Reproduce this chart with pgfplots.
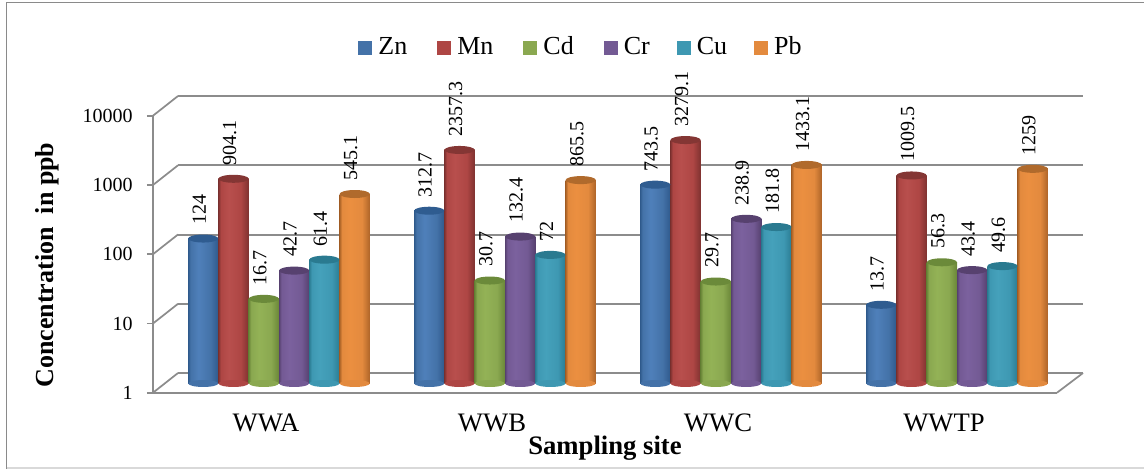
\documentclass[border=0pt]{standalone}
\usepackage{fontspec}
\setmainfont{Liberation Serif}
\usepackage{pgfplots}
\usepackage{pgfplotstable}
\pgfplotsset{compat=1.18}
\definecolor{gridgray}{HTML}{8C8C8C}
\definecolor{frameg}{HTML}{8A8A8A}
\pgfplotstableread{
site Base Zn Mn Cd Cr Cu Pb
WWA 1 124 904.1 16.7 42.7 61.4 545.1
WWB 1 312.7 2357.3 30.7 132.4 72 865.5
WWC 1 743.5 3279.1 29.7 238.9 181.8 1433.1
WWTP 1 13.7 1009.5 56.3 43.4 49.6 1259
}\datatable
\newcommand\defcyl[5]{%
 \definecolor{main#1}{HTML}{#2}\definecolor{light#1}{HTML}{#3}\definecolor{dark#1}{HTML}{#4}\definecolor{top#1}{HTML}{#5}%
 \pgfdeclarehorizontalshading{shade#1}{100bp}{color(0bp)=(dark#1); color(25bp)=(dark#1); color(29bp)=(main#1); color(42bp)=(light#1); color(62bp)=(main#1); color(75bp)=(dark#1); color(100bp)=(dark#1)}%
 \pgfdeclareplotmark{top#1}{\pgfsetfillcolor{top#1}\pgfpathellipse{\pgfpointorigin}{\pgfpoint{11.35pt}{0pt}}{\pgfpoint{0pt}{3pt}}\pgfusepathqfill}%
 \pgfdeclareplotmark{bot#1}{\pgfsetfillcolor{main#1}\pgfpathellipse{\pgfpointorigin}{\pgfpoint{11.2pt}{0pt}}{\pgfpoint{0pt}{2.6pt}}\pgfusepathqfill}%
}
\defcyl{Zn}{4472A8}{4F80BA}{2F5A8C}{2F5C90}
\defcyl{Mn}{AE4644}{B84F4D}{7F3230}{843634}
\defcyl{Cd}{8AA850}{93B256}{6A8638}{6B8A3A}
\defcyl{Cr}{735A94}{7B619E}{56406F}{57416F}
\defcyl{Cu}{3E98B2}{45A1BB}{2A7C92}{2A7A90}
\defcyl{Pb}{E38A3E}{EB8F40}{AD6428}{B06A2C}
\newcommand\onebar[4]{%
 \addplot[ybar,bar width=22.7pt,bar shift=0pt,draw=none,shade,shading=shade#1,forget plot,#3]
   table[x expr=\coordindex+#2,y=#1]{\datatable};
}
\newcommand\cyl[2]{%
 \addplot[only marks,mark=bot#1,forget plot] table[x expr=\coordindex+#2,y=Base]{\datatable};
 \onebar{#1}{#2}{skip coords between index={1}{4}}{}
 \onebar{#1}{#2}{skip coords between index={0}{1},skip coords between index={2}{4}}{}
 \onebar{#1}{#2}{skip coords between index={0}{2},skip coords between index={3}{4}}{}
 \onebar{#1}{#2}{skip coords between index={0}{3}}{}
 \addplot[only marks,mark=top#1,forget plot] table[x expr=\coordindex+#2,y=#1]{\datatable};
}
\newcommand\lab[2]{%
 \addplot[draw=none,mark=none,forget plot,point meta=explicit symbolic,nodes near coords,
   every node near coord/.style={rotate=90,anchor=west,inner sep=0pt,font=\fontsize{15}{15}\selectfont,black,shift={(10pt,3pt)}}]
   table[x expr=\coordindex+#2,y=#1,meta=#1]{\datatable};
}
\begin{document}
\begin{tikzpicture}
\begin{scope}[x=0.75pt,y=-0.75pt,yshift=351.75pt]
\path[use as bounding box] (0,0) rectangle (1144,469);
\draw[frameg,line width=1pt] (6.5,469)--(6.5,2.5)--(1144,2.5);
\draw[black!15,line width=1pt] (6.5,468)--(1144,468);
\end{scope}
% back wall
\begin{axis}[at={(133.5pt,72pt)},anchor=south west,scale only axis,width=678.75pt,height=207.75pt,
 ymode=log,ymin=1,ymax=10000,xmin=0,xmax=1,xtick=\empty,ytick={1,10,100,1000,10000},yticklabels={},
 axis line style={draw=none},major tick style={draw=none},minor tick style={draw=none},
 ymajorgrids,grid style={gridgray,line width=1.5pt}]
\end{axis}
\begin{scope}[x=0.75pt,y=-0.75pt,yshift=351.75pt]
\foreach \y in {392.7,323.5,254.2,185,115.7}
  \draw[gridgray,line width=1.3pt] (153,\y)--(178,\y-19.7);
\draw[gridgray,line width=1.3pt] (1057,392.7)--(1083,373);
\end{scope}
% front frame, labels, legend
\begin{axis}[at={(114.75pt,57.225pt)},anchor=south west,scale only axis,width=678pt,height=207.525pt,
 ymode=log,ymin=1,ymax=10000,xmin=-0.5,xmax=3.5,clip=false,
 axis lines=left,axis line style={-,gridgray,line width=1.3pt},
 xtick={0,1,2,3},xticklabels={WWA,WWB,WWC,WWTP},
 ytick={1,10,100,1000,10000},yticklabels={1,10,100,1000,10000},
 xtick style={draw=none},minor tick style={draw=none},
 ytick style={gridgray,line width=1.3pt},tick align=outside,major tick length=4.5pt,
 yticklabel style={font=\fontsize{15}{15}\selectfont,inner sep=0pt,xshift=-10.5pt},
 xticklabel style={font=\fontsize{20}{20}\selectfont,inner sep=0pt,yshift=-11pt},
 every axis x label/.style={at={(axis description cs:0.5,-0.2)},anchor=center},
 every axis y label/.style={at={(axis description cs:-0.1165,0.4615)},anchor=center,rotate=90},
 xlabel={\fontsize{20}{20}\selectfont\bfseries Sampling site},
 ylabel={\fontsize{19.5}{19.5}\selectfont\bfseries Concentration\ \ in ppb},
 legend columns=6,
 legend style={at={(axis description cs:0.227,1.2515)},anchor=west,draw=none,fill=none,inner sep=0pt,
   font=\fontsize{19.5}{19.5}\selectfont,
   /tikz/every even column/.append style={column sep=22.5pt},
   nodes={inner sep=0pt,anchor=base west},cells={anchor=west}},
 legend image code/.code={\fill[#1] (0pt,-0.5pt) rectangle (10.5pt,10pt);}]
\addlegendimage{fill=mainZn,draw=none}\addlegendentry{\hspace{4.5pt}Zn}
\addlegendimage{fill=mainMn,draw=none}\addlegendentry{\hspace{4.5pt}Mn}
\addlegendimage{fill=mainCd,draw=none}\addlegendentry{\hspace{4.5pt}Cd}
\addlegendimage{fill=mainCr,draw=none}\addlegendentry{\hspace{4.5pt}Cr\kern-2.25pt\relax}
\addlegendimage{fill=mainCu,draw=none}\addlegendentry{\hspace{4.5pt}Cu\kern-2.25pt\relax}
\addlegendimage{fill=mainPb,draw=none}\addlegendentry{\hspace{4.5pt}Pb}
\end{axis}
% cylinders
\begin{axis}[at={(124.5pt,64.125pt)},anchor=south west,scale only axis,width=678pt,height=207.75pt,
 ymode=log,ymin=1,ymax=10000,xmin=-0.5,xmax=3.5,clip=false,hide axis]
\cyl{Zn}{-0.3352}
\cyl{Mn}{-0.2011}
\cyl{Cd}{-0.0670}
\cyl{Cr}{0.0670}
\cyl{Cu}{0.2011}
\cyl{Pb}{0.3352}
\lab{Zn}{-0.3352}
\lab{Mn}{-0.2011}
\lab{Cd}{-0.0670}
\lab{Cr}{0.0670}
\lab{Cu}{0.2011}
\lab{Pb}{0.3352}
\end{axis}
\end{tikzpicture}
\end{document}
